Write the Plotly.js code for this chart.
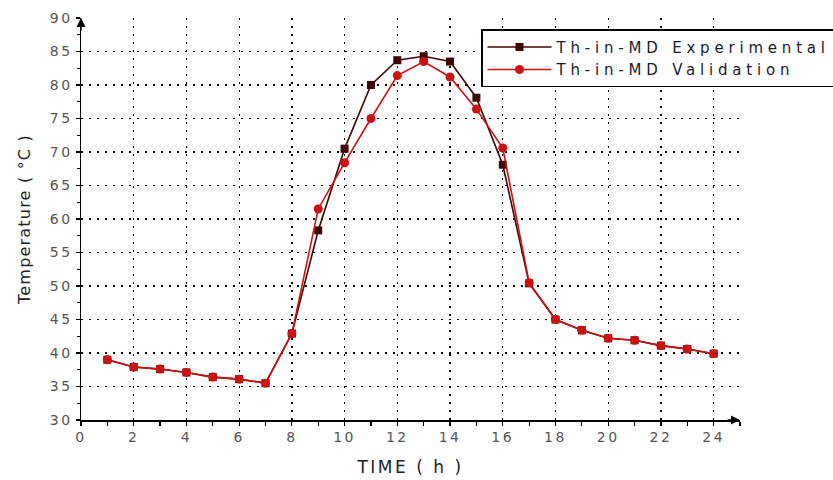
<!DOCTYPE html>
<html>
<head>
<meta charset="utf-8">
<script src="https://cdn.plot.ly/plotly-3.0.1.min.js"></script>
<style>
html,body{margin:0;padding:0;background:#fff;}
#chart{width:833px;height:480px;}
#chart .xtick text, #chart .ytick text {letter-spacing: 2.5px;}
#chart .legendtext {letter-spacing: 4.8px;}
#chart .legend .scrollbox {clip-path: none !important;}
#chart .legend rect.bg {width: 520px;}
#chart .xtitle {letter-spacing: 2.5px;}
#chart .ytitle {letter-spacing: 1.2px;}
</style>
</head>
<body>
<div id="chart"></div>
<script>
// Data
const hours = [1,2,3,4,5,6,7,8,9,10,11,12,13,14,15,16,17,18,19,20,21,22,23,24];
const experimental = [39.0,37.9,37.6,37.1,36.4,36.1,35.5,42.9,58.3,70.5,80.0,83.7,84.3,83.5,78.1,68.1,50.4,45.0,43.4,42.2,41.9,41.1,40.6,39.9];
const validation   = [39.0,37.9,37.6,37.1,36.4,36.1,35.5,42.9,61.5,68.4,75.0,81.4,83.5,81.2,76.4,70.6,50.5,45.0,43.4,42.2,41.9,41.1,40.6,39.9];
const seriesNames = ['Th-in-MD Experimental','Th-in-MD Validation'];
const xTickVals = [0,2,4,6,8,10,12,14,16,18,20,22,24];
const yTickVals = [30,35,40,45,50,55,60,65,70,75,80,85,90];
const yGridVals = [35,40,45,50,55,60,65,70,75,80,85];

const FONT = 'DejaVu Sans, Verdana, sans-serif';

const traces = [
  {x: hours, y: experimental, name: seriesNames[0], type: 'scatter', mode: 'lines+markers',
   line: {color: '#420505', width: 1.6}, marker: {symbol: 'square', size: 8, color: '#420505'}},
  {x: hours, y: validation, name: seriesNames[1], type: 'scatter', mode: 'lines+markers',
   line: {color: '#cc1111', width: 1.6}, marker: {symbol: 'circle', size: 9, color: '#cc1111'}},
  {x: [null], y: [null], yaxis: 'y2', showlegend: false, hoverinfo: 'skip', mode: 'markers'}
];

const layout = {
  width: 833, height: 480,
  margin: {l: 81, r: 93, t: 18, b: 60},
  paper_bgcolor: '#fff', plot_bgcolor: '#fff',
  font: {family: FONT, color: '#222'},
  showlegend: true,
  legend: {x: 0.607, y: 0.972, xanchor: 'left', yanchor: 'top',
    bordercolor: '#000', borderwidth: 1.5, bgcolor: '#fff',
    font: {family: FONT, size: 15, color: '#1a1a2a'}, tracegroupgap: 0, itemwidth: 64},
  xaxis: {range: [0, 25], tickvals: xTickVals, ticktext: xTickVals.map(String),
    showline: true, linecolor: '#000', linewidth: 1.5, zeroline: false,
    ticks: 'outside', ticklen: 4, tickcolor: '#000', tickwidth: 1.2,
    minor: {dtick: 1, tick0: 0, ticks: 'outside', ticklen: 4, tickcolor: '#000', showgrid: false},
    showgrid: true, gridcolor: '#000', gridwidth: 1.3, griddash: '2px,6px',
    tickfont: {family: FONT, size: 14, color: '#555'},
    title: {text: 'TIME ( h )', font: {family: FONT, size: 17, color: '#222'}, standoff: 17}},
  yaxis: {range: [30, 90], tickvals: yTickVals, ticktext: yTickVals.map(String),
    showline: true, linecolor: '#000', linewidth: 1.5, zeroline: false,
    ticks: 'outside', ticklen: 4, tickcolor: '#000', tickwidth: 1.2,
    minor: {dtick: 2.5, tick0: 30, ticks: 'outside', ticklen: 3, tickcolor: '#000', showgrid: false},
    showgrid: false,
    tickfont: {family: FONT, size: 14, color: '#555'},
    title: {text: 'Temperature ( °C )', font: {family: FONT, size: 16, color: '#222'}, standoff: 20}},
  yaxis2: {overlaying: 'y', range: [30, 90], tickvals: yGridVals, showticklabels: false,
    ticks: '', showline: false, zeroline: false,
    showgrid: true, gridcolor: '#000', gridwidth: 1.3, griddash: '2px,6px'},
  annotations: [
    {xref: 'x', yref: 'y', x: 25, y: 30, ax: -14, ay: 0, text: '', showarrow: true,
     arrowhead: 2, arrowsize: 1.2, arrowwidth: 1.5, arrowcolor: '#000'},
    {xref: 'x', yref: 'y', x: 0, y: 90, ax: 0, ay: 14, text: '', showarrow: true,
     arrowhead: 2, arrowsize: 1.2, arrowwidth: 1.5, arrowcolor: '#000'}
  ]
};

Plotly.newPlot('chart', traces, layout, {displayModeBar: false, staticPlot: true});
</script>
</body>
</html>
